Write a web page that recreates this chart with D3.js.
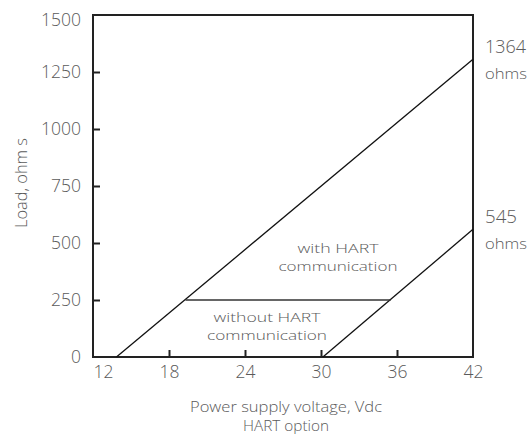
<!DOCTYPE html>
<html><head><meta charset="utf-8">
<script src="https://cdn.jsdelivr.net/npm/d3@7"></script>
<style>
body{margin:0;background:#fff;}
text{font-family:"Open Sans",sans-serif;fill:#5a5a5a;font-weight:300;}
</style></head>
<body><svg id="c" width="530" height="441"></svg>
<script>
const xTicks=[12,18,24,30,36,42];
const yTicks=[0,250,500,750,1000,1250,1500];
const lineWith=[[13.85,0],[42,1306]];
const lineWithout=[[30.15,0],[42,560]];
const lineSplit=[[19.3,250],[35.5,250]];
const endLabels=[{x:42,y:1306,value:"1364",unit:"ohms"},{x:42,y:560,value:"545",unit:"ohms"}];
const regionLabels=[{x:31.34,y:458,lines:["with HART","communication"]},{x:25.74,y:155,lines:["without HART","communication"]}];

const svg=d3.select("#c");
const m={l:93,r:473,t:15,b:357};
const x=d3.scaleLinear().domain([12,42]).range([m.l,m.r]);
const y=d3.scaleLinear().domain([0,1500]).range([m.b,m.t]);

function fit(sel,w){
  sel.attr("textLength",w).attr("lengthAdjust","spacingAndGlyphs");
}

svg.append("rect").attr("x",m.l).attr("y",m.t).attr("width",m.r-m.l).attr("height",m.b-m.t)
 .attr("fill","none").attr("stroke","#222").attr("stroke-width",2);

const xa=svg.append("g").attr("transform",`translate(0,${m.b})`)
 .call(d3.axisBottom(x).tickValues(xTicks).tickSize(-7).tickFormat(d3.format("d")));
const ya=svg.append("g").attr("transform",`translate(${m.l},0)`)
 .call(d3.axisLeft(y).tickValues(yTicks).tickSize(-7).tickPadding(12).tickFormat(d3.format("d")));
[xa,ya].forEach(a=>{a.select(".domain").remove();
 a.selectAll(".tick line").attr("stroke","#222").attr("stroke-width",2);
 a.selectAll(".tick text").style("font-size","17.5px").attr("fill","#5a5a5a")
  .style("font-family","'Open Sans',sans-serif").style("font-weight","300");});
xa.selectAll(".tick text").attr("dy",0).attr("y",21).filter(d=>d===12).attr("dx",10);
ya.selectAll(".tick text").filter(d=>d===1500).attr("dy","0.6em");
ya.selectAll(".tick line").filter(d=>d===0||d===1500).remove();
xa.selectAll(".tick line").filter(d=>d===12||d===42).remove();

const line=d3.line().x(d=>x(d[0])).y(d=>y(d[1]));
[lineWith,lineWithout,lineSplit].forEach((p,i)=>{
 svg.append("path").attr("d",line(p)).attr("fill","none").attr("stroke",i===2?"#333":"#111").attr("stroke-width",i===2?1.6:1.3);
});

endLabels.forEach((e,i)=>{
 svg.append("text").attr("x",x(e.x)+12).attr("y",y(e.y)-6).text(e.value).style("font-size","17.5px")
  .call(fit,i===0?41:32);
 svg.append("text").attr("x",x(e.x)+12).attr("y",y(e.y)+20).text(e.unit).style("font-size","15px").call(fit,42);
});

const regW=[[81,119],[107,120]];
regionLabels.forEach((r,j)=>{
 r.lines.forEach((t,i)=>{
  svg.append("text").attr("x",x(r.x)).attr("y",y(r.y)+i*18).attr("text-anchor","middle")
   .style("font-size","13px").text(t).call(fit,regW[j][i]);
 });
});

svg.append("text").attr("transform","translate(27,183) rotate(-90)").attr("text-anchor","middle")
 .style("font-size","17px").text("Load, ohm s").call(fit,90);
svg.append("text").attr("x",286).attr("y",412).attr("text-anchor","middle").style("font-size","13.8px").text("Power supply voltage, Vdc").call(fit,192);
svg.append("text").attr("x",286).attr("y",431).attr("text-anchor","middle").style("font-size","13.8px").text("HART option").call(fit,86);
</script></body></html>
